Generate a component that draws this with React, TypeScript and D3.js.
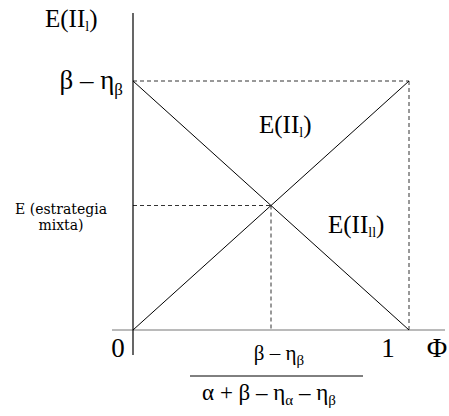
import React from 'react';
import * as d3 from 'd3';

// proportion Φ on the x axis, expected payoff on the y axis (top = β − ηβ)
const phiTicks = [0, 1];
const lineI = [{ phi: 0, e: 0 }, { phi: 1, e: 1 }];   // E(II_I)
const lineII = [{ phi: 0, e: 1 }, { phi: 1, e: 0 }];  // E(II_II)
const mixed = { phi: 0.5, e: 0.5 };
const mixedLabel = ['E (estrategia', 'mixta)'];

const W = 449;
const H = 416;

const serif = "'Liberation Serif', 'Times New Roman', serif";
const school = "'DejaVu Serif', 'Liberation Serif', serif";

const App = () => {
  const x = d3.scaleLinear().domain([0, 1]).range([133, 409]);
  const y = d3.scaleLinear().domain([0, 1]).range([330, 81]);

  const line = d3.line<{ phi: number; e: number }>()
    .x(d => x(d.phi))
    .y(d => y(d.e));

  const dash = { stroke: '#333', strokeWidth: 1, strokeDasharray: '4,3', fill: 'none' };

  return (
    <svg width={W} height={H} style={{ position: 'absolute', left: 0, top: 0 }}>
      <rect width={W} height={H} fill="white" />

      {/* guide lines */}
      <line x1={x(0)} x2={x(1)} y1={y(1)} y2={y(1)} {...dash} />
      <line x1={x(1)} x2={x(1)} y1={y(1)} y2={y(0)} {...dash} />
      <line x1={x(0)} x2={x(mixed.phi)} y1={y(mixed.e)} y2={y(mixed.e)} {...dash} />
      <line x1={x(mixed.phi)} x2={x(mixed.phi)} y1={y(mixed.e)} y2={y(0)} {...dash} />

      {/* axes */}
      <line x1={112} x2={445} y1={y(0)} y2={y(0)} stroke="#777" strokeWidth={1.2} />
      <line x1={x(0)} x2={x(0)} y1={13} y2={355} stroke="#000" strokeWidth={1.2} />

      {/* payoff lines */}
      <path d={line(lineI) || ''} stroke="#000" strokeWidth={1} fill="none" />
      <path d={line(lineII) || ''} stroke="#000" strokeWidth={1} fill="none" />

      {/* y axis title */}
      <text x={45} y={27} fontFamily={serif} fontSize={25}>
        E(II<tspan fontSize={14} dy={4}>l</tspan><tspan dy={-4}>)</tspan>
      </text>

      {/* top value */}
      <text x={123} y={y(1) + 8} fontFamily={serif} fontSize={27} textAnchor="end">
        β – η<tspan fontSize={17} dy={6}>β</tspan>
      </text>

      {/* mixed strategy label */}
      {mixedLabel.map((s, i) => (
        <text key={s} x={61} y={y(mixed.e) + 8 + i * 16} fontFamily={school} fontSize={14} textAnchor="middle">
          {s}
        </text>
      ))}

      {/* line labels */}
      <text x={259} y={133} fontFamily={serif} fontSize={25}>
        E(II<tspan fontSize={14} dy={4}>l</tspan><tspan dy={-4}>)</tspan>
      </text>
      <text x={328} y={233} fontFamily={serif} fontSize={25}>
        E(II<tspan fontSize={14} dy={4}>ll</tspan><tspan dy={-4}>)</tspan>
      </text>

      {/* x ticks */}
      {phiTicks.map(t => (
        <text key={t} x={x(t) + (t === 0 ? -15 : -21)} y={357} fontFamily={serif} fontSize={27} textAnchor="middle">
          {t}
        </text>
      ))}
      <text x={437} y={357} fontFamily={serif} fontSize={28} textAnchor="middle">Φ</text>

      {/* mixed phi as fraction */}
      <text x={x(mixed.phi) + 8} y={360} fontFamily={serif} fontSize={21} textAnchor="middle">
        β – η<tspan fontSize={15} dy={5}>β</tspan>
      </text>
      <line x1={190} x2={363} y1={376} y2={376} stroke="#000" strokeWidth={1} />
      <text x={x(mixed.phi) - 2} y={400} fontFamily={serif} fontSize={23} textAnchor="middle">
        α + β – η<tspan fontSize={15} dy={5}>α</tspan><tspan dy={-5}> – η</tspan><tspan fontSize={15} dy={5}>β</tspan>
      </text>
    </svg>
  );
};

export default App;
